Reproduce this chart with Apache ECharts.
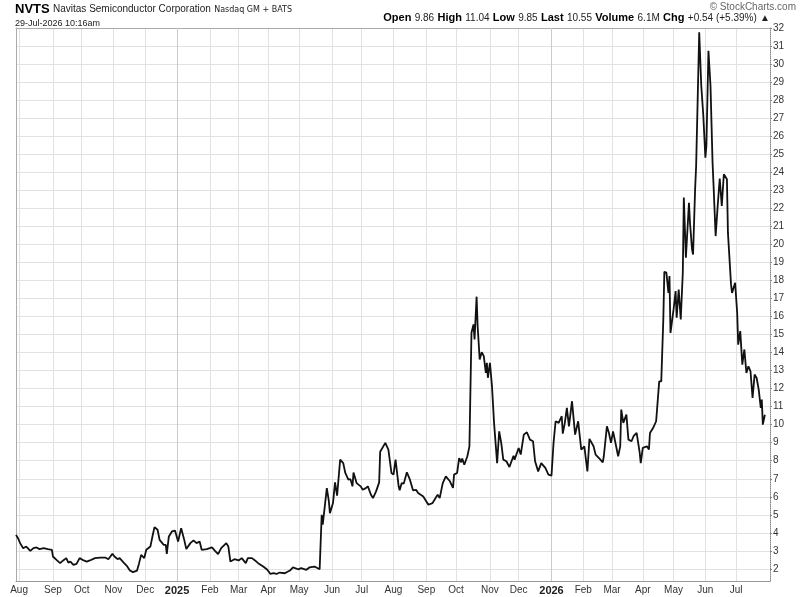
<!DOCTYPE html>
<html><head><meta charset="utf-8">
<script src="https://cdn.jsdelivr.net/npm/echarts@6/dist/echarts.min.js"></script>
<style>html,body{margin:0;padding:0;background:#fff}#c{width:800px;height:597px}</style>
</head><body><div id="c"></div>
<script>
const dates = [
'2024-07-29','2024-07-31','2024-08-02','2024-08-05','2024-08-08','2024-08-12','2024-08-15','2024-08-18','2024-08-21','2024-08-25','2024-08-29',
'2024-09-02','2024-09-03','2024-09-07','2024-09-10','2024-09-13','2024-09-16','2024-09-18','2024-09-20','2024-09-23','2024-09-26','2024-09-29',
'2024-10-03','2024-10-06','2024-10-09','2024-10-14','2024-10-19','2024-10-24','2024-10-27','2024-10-31',
'2024-11-02','2024-11-05','2024-11-07','2024-11-11','2024-11-14','2024-11-17','2024-11-20','2024-11-24','2024-11-26','2024-11-28',
'2024-12-01','2024-12-03','2024-12-07','2024-12-09','2024-12-11','2024-12-14','2024-12-16','2024-12-20','2024-12-22','2024-12-23','2024-12-25','2024-12-28','2024-12-31',
'2025-01-03','2025-01-06','2025-01-09','2025-01-11','2025-01-15','2025-01-18','2025-01-21','2025-01-24','2025-01-26','2025-01-31',
'2025-02-05','2025-02-08','2025-02-11','2025-02-14','2025-02-19','2025-02-21','2025-02-23','2025-02-27',
'2025-03-03','2025-03-06','2025-03-10','2025-03-12','2025-03-16','2025-03-19','2025-03-22','2025-03-27','2025-03-31',
'2025-04-03','2025-04-06','2025-04-09','2025-04-12','2025-04-17','2025-04-22','2025-04-25','2025-04-30',
'2025-05-03','2025-05-08','2025-05-11','2025-05-16','2025-05-21','2025-05-23','2025-05-24','2025-05-28','2025-05-30','2025-05-31',
'2025-06-03','2025-06-05','2025-06-07','2025-06-10','2025-06-13','2025-06-15','2025-06-18','2025-06-20','2025-06-22','2025-06-23','2025-06-26','2025-06-30',
'2025-07-02','2025-07-05','2025-07-07','2025-07-10','2025-07-12','2025-07-15','2025-07-18','2025-07-19','2025-07-24','2025-07-27','2025-07-30',
'2025-08-01','2025-08-03','2025-08-06','2025-08-07','2025-08-09','2025-08-11','2025-08-14','2025-08-17','2025-08-20','2025-08-23','2025-08-25','2025-08-30',
'2025-09-04','2025-09-08','2025-09-10','2025-09-13','2025-09-15','2025-09-18','2025-09-21','2025-09-25','2025-09-28','2025-09-29',
'2025-10-02','2025-10-04','2025-10-06','2025-10-07','2025-10-09','2025-10-12','2025-10-14','2025-10-16','2025-10-18','2025-10-19','2025-10-21','2025-10-22','2025-10-24','2025-10-26','2025-10-28','2025-10-30','2025-10-31',
'2025-11-01','2025-11-03','2025-11-05','2025-11-07','2025-11-10','2025-11-12','2025-11-14','2025-11-16','2025-11-19','2025-11-22','2025-11-26','2025-11-27',
'2025-12-01','2025-12-03','2025-12-06','2025-12-09','2025-12-12','2025-12-15','2025-12-17','2025-12-20','2025-12-23','2025-12-27','2025-12-30',
'2026-01-02','2026-01-04','2026-01-06','2026-01-09','2026-01-12','2026-01-13','2026-01-15','2026-01-17','2026-01-19','2026-01-22','2026-01-25','2026-01-28','2026-01-31',
'2026-02-03','2026-02-06','2026-02-08','2026-02-12','2026-02-14','2026-02-18','2026-02-21','2026-02-22','2026-02-25','2026-02-27',
'2026-03-01','2026-03-03','2026-03-05','2026-03-08','2026-03-10','2026-03-11','2026-03-13','2026-03-16','2026-03-18','2026-03-21','2026-03-23','2026-03-26','2026-03-29','2026-03-30',
'2026-04-01','2026-04-05','2026-04-07','2026-04-08','2026-04-11','2026-04-14','2026-04-17','2026-04-19','2026-04-21','2026-04-22','2026-04-24','2026-04-26','2026-04-27','2026-04-28',
'2026-05-01','2026-05-03','2026-05-04','2026-05-06','2026-05-08','2026-05-10','2026-05-11','2026-05-13','2026-05-16','2026-05-17','2026-05-19','2026-05-20','2026-05-22','2026-05-23','2026-05-26','2026-05-28','2026-05-30',
'2026-06-01','2026-06-02','2026-06-04','2026-06-06','2026-06-08','2026-06-09','2026-06-11','2026-06-13','2026-06-15','2026-06-17','2026-06-19','2026-06-22','2026-06-23','2026-06-26','2026-06-27','2026-06-30',
'2026-07-02','2026-07-03','2026-07-05','2026-07-07','2026-07-09','2026-07-11','2026-07-13','2026-07-15','2026-07-17','2026-07-19','2026-07-21','2026-07-23','2026-07-25','2026-07-26','2026-07-27','2026-07-29'
];
const closes = [
3.89,3.70,3.43,3.15,3.24,3.00,3.15,3.19,3.10,3.15,3.10,
3.06,2.69,2.47,2.32,2.47,2.60,2.35,2.41,2.22,2.28,2.60,
2.47,2.41,2.47,2.60,2.63,2.63,2.54,2.84,
2.69,2.54,2.60,2.35,2.17,1.91,1.82,1.91,2.32,2.78,
2.60,3.06,3.24,3.80,4.32,4.17,3.61,3.33,3.33,2.84,3.80,4.08,4.13,
3.52,4.26,3.61,3.10,3.43,3.58,3.43,3.52,3.06,3.10,
3.19,3.00,2.82,3.15,3.43,3.24,2.41,2.54,
2.47,2.60,2.32,2.60,2.60,2.47,2.32,2.13,1.95,
1.72,1.76,1.72,1.80,1.76,1.91,2.09,1.98,
2.04,1.95,2.08,2.13,1.98,5.00,4.45,6.48,5.74,5.09,
5.65,6.80,6.06,8.06,7.87,7.32,6.95,6.98,6.58,7.35,6.76,6.58,
6.39,6.48,6.58,6.11,5.93,6.30,6.80,8.50,8.99,8.62,7.32,
7.23,8.06,6.58,6.36,6.76,6.73,7.36,6.95,6.36,6.39,6.21,6.02,
5.56,5.65,5.84,6.12,5.93,6.76,7.13,6.86,6.49,7.23,
7.32,8.15,7.91,8.12,7.78,8.25,8.80,15.10,15.56,14.73,17.10,15.47,13.62,14.02,13.80,12.87,13.43,
12.60,13.43,12.13,10.10,7.87,9.63,8.99,8.06,7.97,7.65,8.28,8.06,
8.71,8.34,9.45,9.58,9.17,9.08,7.97,7.41,7.87,7.60,7.23,
7.17,8.99,10.19,10.10,10.47,9.50,10.10,10.93,9.91,11.30,9.45,10.19,8.62,
8.80,7.41,9.21,8.80,8.34,8.10,7.91,8.25,9.91,9.54,
8.99,9.63,9.08,8.25,8.80,10.84,10.10,10.56,9.17,9.08,9.36,9.54,8.43,7.87,
8.71,8.80,8.62,9.54,9.81,10.19,12.40,12.40,15.83,18.48,18.43,17.31,18.24,15.09,
16.39,17.41,15.93,17.50,15.83,18.43,22.60,19.26,22.31,21.20,19.72,19.44,23.06,24.35,31.76,28.80,27.13,
24.81,25.46,30.74,28.80,24.54,23.24,20.46,22.13,23.65,22.13,23.89,23.61,20.65,17.78,17.31,17.87,
16.20,14.44,15.19,13.33,14.17,12.87,13.24,12.96,11.48,12.78,12.59,11.94,10.93,11.39,10.00,10.55
];
const monthTicks = ['2024-08-01','2024-09-03','2024-10-01','2024-11-01','2024-12-02','2025-01-02','2025-02-03','2025-03-03','2025-04-01','2025-05-01','2025-06-02','2025-07-01','2025-08-01','2025-09-02','2025-10-01','2025-11-03','2025-12-01','2026-01-02','2026-02-02','2026-03-02','2026-04-01','2026-05-01','2026-06-01','2026-07-01'];
const yearLines = ['2025-01-02','2026-01-02'];
const priceTicks = [2,3,4,5,6,7,8,9,10,11,12,13,14,15,16,17,18,19,20,21,22,23,24,25,26,27,28,29,30,31,32];
const monthNames = ['Jan','Feb','Mar','Apr','May','Jun','Jul','Aug','Sep','Oct','Nov','Dec'];
const quote = {open:'9.86', high:'11.04', low:'9.85', last:'10.55', volume:'6.1M', chg:'+0.54 (+5.39%)'};
const xStart = '2024-07-29', xEnd = '2026-08-03';

const FONT = '"Liberation Sans", Arial, sans-serif';
const WIDE = '"DejaVu Sans", Verdana, sans-serif';
const ts = s => Date.parse(s + 'T00:00:00Z');
const chart = echarts.init(document.getElementById('c'), null, {renderer:'canvas'});
const seriesData = dates.map((d,i)=>[ts(d), closes[i]]);
const monthTs = monthTicks.map(ts);

chart.setOption({
  animation:false,
  backgroundColor:'#fff',
  grid:{left:16, right:30, top:28, bottom:16, containLabel:false},
  xAxis:[{
    type:'value', min:ts(xStart), max:ts(xEnd),
    axisLine:{show:true, lineStyle:{color:'#999', width:1}},
    axisTick:{show:false, customValues:monthTs},
    splitLine:{show:true, lineStyle:{color:'#e2e2e2', width:1}},
    axisLabel:{customValues:monthTs, margin:4, color:'#333', fontFamily:FONT, fontSize:10,
      formatter:function(v){const d=new Date(v); const m=d.getUTCMonth(); return m===0?('{y|'+d.getUTCFullYear()+'}'):monthNames[m];},
      rich:{y:{fontWeight:'bold', fontSize:11, color:'#222', fontFamily:FONT}}}
  },{
    type:'value', position:'top', min:ts(xStart), max:ts(xEnd),
    axisLine:{show:true, lineStyle:{color:'#aaa', width:1}},
    axisTick:{show:false}, axisLabel:{show:false}, splitLine:{show:false}
  }],
  yAxis:[{
    type:'value', position:'right', min:1.33, max:32,
    axisLine:{show:true, lineStyle:{color:'#888', type:'dotted', width:1}},
    axisTick:{show:true, length:2, customValues:priceTicks, lineStyle:{color:'#888'}},
    splitLine:{show:true, lineStyle:{color:'#e2e2e2', width:1}},
    axisLabel:{customValues:priceTicks, margin:3, color:'#333', fontFamily:FONT, fontSize:10}
  },{
    type:'value', position:'left', min:1.33, max:32,
    axisLine:{show:true, lineStyle:{color:'#aaa', width:1}},
    axisTick:{show:false}, axisLabel:{show:false}, splitLine:{show:false}
  }],
  series:[{
    type:'line', xAxisIndex:0, yAxisIndex:0, data:seriesData, showSymbol:false, symbol:'none',
    lineStyle:{color:'#111', width:1.8}, z:5,
    markLine:{silent:true, symbol:'none', label:{show:false}, lineStyle:{color:'#cacaca', type:'solid', width:1},
      data:yearLines.map(d=>({xAxis:ts(d)}))}
  }],
  graphic:[
    {type:'text', left:15, top:3, style:{text:'{t|NVTS} {n|Navitas Semiconductor Corporation} {e|Nasdaq GM + BATS}',
      rich:{t:{fontSize:13, fontWeight:'bold', fontFamily:FONT, fill:'#000'}, n:{fontSize:10, fontFamily:FONT, fill:'#222'}, e:{fontSize:8, fontFamily:WIDE, fill:'#222'}}}},
    {type:'text', left:15, top:19, style:{text:'29-Jul-2026 10:16am', fontSize:9, fontFamily:FONT, fill:'#222'}},
    {type:'text', right:4, top:2, style:{text:'\u00A9 StockCharts.com', fontSize:10, fontFamily:FONT, fill:'#666'}},
    {type:'text', right:30, top:12, style:{
      text:'{b|Open} {v|'+quote.open+'} {b|High} {v|'+quote.high+'} {b|Low} {v|'+quote.low+'} {b|Last} {v|'+quote.last+'} {b|Volume} {v|'+quote.volume+'} {b|Chg} {v|'+quote.chg+'} {v|\u25B2}',
      rich:{b:{fontSize:11, fontWeight:'bold', fontFamily:FONT, fill:'#000'}, v:{fontSize:10, fontFamily:FONT, fill:'#222'}}}}
  ]
});
</script></body></html>
